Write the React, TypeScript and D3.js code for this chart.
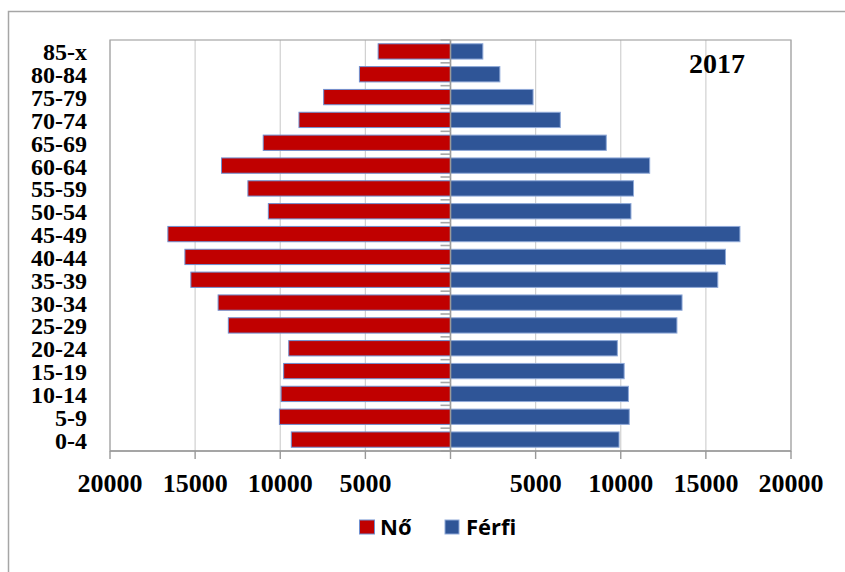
import React, { useEffect } from "react";
import * as d3 from "d3";

const ageGroups = ["0-4", "5-9", "10-14", "15-19", "20-24", "25-29", "30-34", "35-39", "40-44", "45-49", "50-54", "55-59", "60-64", "65-69", "70-74", "75-79", "80-84", "85-x"];
const female = [9350, 10050, 9950, 9800, 9500, 13050, 13650, 15250, 15600, 16600, 10700, 11900, 13450, 11000, 8900, 7450, 5350, 4250];
const male = [9900, 10500, 10450, 10200, 9800, 13300, 13600, 15700, 16150, 17000, 10600, 10750, 11700, 9150, 6450, 4850, 2900, 1900];
const xTicks = [-20000, -15000, -10000, -5000, 0, 5000, 10000, 15000, 20000];
const seriesNames = ["Nő", "Férfi"];
const yearLabel = "2017";

const W = 845;
const H = 572;
const plot = { left: 110, right: 791, top: 40, bottom: 451 };
const RED = "#C00000";
const BLUE = "#2F5597";
const SERIF = "'Liberation Serif', 'Times New Roman', serif";
const SANS = "'Liberation Sans Narrow', 'Open Sans', sans-serif";

export default function App() {
  useEffect(() => {
    document.body.style.margin = "0";
  }, []);

  const x = d3.scaleLinear().domain([-20000, 20000]).range([plot.left, plot.right]);
  const y = d3
    .scaleBand<string>()
    .domain([...ageGroups].reverse())
    .range([plot.top, plot.bottom])
    .paddingInner(0.33)
    .paddingOuter(0.165);
  const step = y.step();
  const bw = y.bandwidth();
  const x0 = x(0);
  const boundaries = d3.range(ageGroups.length + 1).map((i) => plot.top + i * step);

  return (
    <svg width={W} height={H} style={{ position: "absolute", left: 0, top: 0, background: "#fff" }}>
      {/* outer chart frame */}
      <path d={`M8.5,${H} L8.5,11.5 L${W},11.5`} fill="none" stroke="#a6a6a6" strokeWidth={1.5} />

      {/* gridlines */}
      {xTicks.map((t) => (
        <line key={"g" + t} x1={x(t)} x2={x(t)} y1={plot.top} y2={plot.bottom} stroke="#d0d0d0" strokeWidth={1.2} />
      ))}
      {/* plot border */}
      <rect x={plot.left} y={plot.top} width={plot.right - plot.left} height={plot.bottom - plot.top} fill="none" stroke="#a6a6a6" strokeWidth={1.2} />

      {/* bars */}
      {ageGroups.map((g, i) => (
        <g key={g}>
          <rect x={x(-female[i])} y={y(g)} width={x0 - x(-female[i])} height={bw} fill={RED} stroke="#6f8fd0" strokeWidth={1} />
          <rect x={x0} y={y(g)} width={x(male[i]) - x0} height={bw} fill={BLUE} stroke="#8fa9d8" strokeWidth={1} />
        </g>
      ))}

      {/* center axis */}
      <line x1={x0} x2={x0} y1={plot.top} y2={plot.bottom} stroke="#999" strokeWidth={1.6} />
      {boundaries.map((b, i) => (
        <line key={"t" + i} x1={x0 - 10} x2={x0} y1={b} y2={b} stroke="#a6a6a6" strokeWidth={1.6} />
      ))}

      {/* bottom axis */}
      <line x1={plot.left} x2={plot.right} y1={plot.bottom} y2={plot.bottom} stroke="#999" strokeWidth={1.4} />
      {xTicks.map((t) => (
        <line key={"bt" + t} x1={x(t)} x2={x(t)} y1={plot.bottom} y2={plot.bottom + 8} stroke="#999" strokeWidth={1.4} />
      ))}
      {xTicks.filter((t) => t !== 0).map((t) => (
        <text key={"bl" + t} x={x(t)} y={492} textAnchor="middle" fontFamily={SERIF} fontWeight="bold" fontSize={26} fill="#000">
          {Math.abs(t)}
        </text>
      ))}

      {/* category labels */}
      {ageGroups.map((g) => (
        <text key={"l" + g} x={87} y={(y(g) as number) + bw / 2 + 9} textAnchor="end" fontFamily={SERIF} fontWeight="bold" fontSize={24} fill="#000">
          {g}
        </text>
      ))}

      {/* year */}
      <text x={689} y={73} fontFamily={SERIF} fontWeight="bold" fontSize={28} fill="#000">
        {yearLabel}
      </text>

      {/* legend */}
      <rect x={359.5} y={520} width={15} height={14} fill={RED} stroke="#6f8fd0" strokeWidth={1} />
      <text x={380} y={535} fontFamily={SANS} fontWeight="bold" fontSize={22} fill="#000">
        {seriesNames[0]}
      </text>
      <rect x={445} y={520} width={14} height={14} fill={BLUE} stroke="#8fa9d8" strokeWidth={1} />
      <text x={466} y={535} fontFamily={SANS} fontWeight="bold" fontSize={22} fill="#000">
        {seriesNames[1]}
      </text>
    </svg>
  );
}
